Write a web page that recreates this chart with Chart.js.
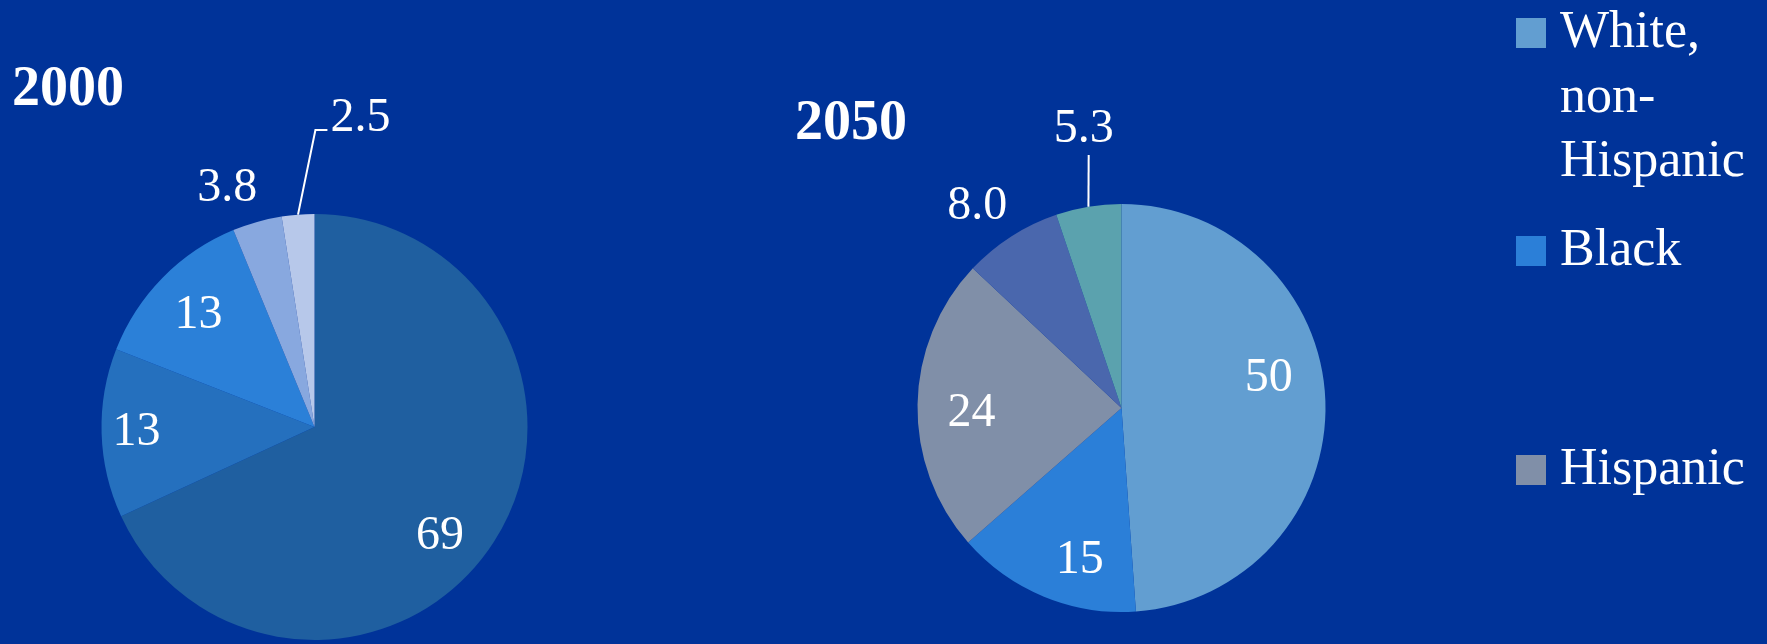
<!DOCTYPE html>
<html>
<head>
<meta charset="utf-8">
<script src="https://cdn.jsdelivr.net/npm/chart.js@4.4.1/dist/chart.umd.min.js"></script>
<style>
html,body{margin:0;padding:0;width:1767px;height:644px;overflow:hidden;background:#003399;}
canvas{position:absolute;left:0;top:0;}
.title{position:absolute;font-family:"Liberation Serif",serif;font-weight:bold;font-size:56px;line-height:56px;color:#fff;white-space:nowrap;}
.leg{position:absolute;left:1516px;width:251px;font-family:"Liberation Serif",serif;font-size:52px;line-height:64.5px;color:#fff;}
.leg .sw{position:absolute;left:0;width:30px;height:30px;}
.leg .tx{position:absolute;left:44px;top:0;width:205px;}
</style>
</head>
<body>
<canvas id="c2000" width="1767" height="644"></canvas>
<canvas id="c2050" width="1767" height="644"></canvas>
<div class="title" id="t2000" style="left:12px;top:58px;"></div>
<div class="title" id="t2050" style="left:795px;top:92px;"></div>
<div id="legend"></div>
<script>
// ---- data ----
const categories = ["White, non-Hispanic", "Black", "Hispanic", "Asian", "Other"];
const chartTitles = ["2000", "2050"];
const values2000 = [69, 13, 13, 3.8, 2.5];
const values2050 = [50, 15, 24, 8.0, 5.3];
const legendLabels = ["White, non-Hispanic", "Black", "Hispanic"];

// ---- styles ----
const colors2000 = ["#1F5FA0", "#2570BE", "#2B80D8", "#88A8DF", "#B7C8EA"];
const colors2050 = ["#629ED1", "#2B7FD8", "#808FA8", "#4A67AD", "#5BA2AE"];
const legendColors = ["#629ED1", "#2B7FD8", "#808FA8"];
const legendTops = [-2, 216, 435];
// [radius factor, angle offset in degrees]
const place2000 = [[0.771, 7.6], [0.836, 1.1], [0.767, 0.3], [1.208, -4.2], [1.483, 12.8]];
const place2050 = [[0.74, -10.5], [0.758, -6.7], [0.735, -1.8], [1.229, -2.4], [1.397, 1.7]];
// leader: [elbowDx, elbowDy, endDx, endDy] relative to label centre
const leaders2000 = [null, null, null, null, [-45, 15.5, -33, 15.5]];
const leaders2050 = [null, null, null, null, [5, 29.5, 5, 29.5]];

function fmt(v){ return v < 10 ? v.toFixed(1) : v.toFixed(0); }

const labelPlugin = {
  id: 'pieLabels',
  afterDatasetsDraw(chart, args, opts){
    const ctx = chart.ctx;
    const meta = chart.getDatasetMeta(0);
    const vals = chart.data.datasets[0].data;
    ctx.save();
    ctx.font = '48px "Liberation Serif", serif';
    ctx.fillStyle = '#ffffff';
    ctx.strokeStyle = '#ffffff';
    ctx.lineWidth = 2;
    ctx.textAlign = 'center';
    ctx.textBaseline = 'middle';
    meta.data.forEach((arc, i) => {
      const p = arc.getProps(['x','y','startAngle','endAngle','outerRadius'], true);
      const mid = (p.startAngle + p.endAngle) / 2;
      const pl = opts.place[i];
      const a = mid + pl[1] * Math.PI / 180;
      const lx = p.x + Math.cos(a) * p.outerRadius * pl[0];
      const ly = p.y + Math.sin(a) * p.outerRadius * pl[0];
      ctx.fillText(fmt(vals[i]), lx, ly + 3.5);
      const ld = opts.leaders[i];
      if (ld) {
        ctx.beginPath();
        ctx.moveTo(p.x + Math.cos(mid) * p.outerRadius, p.y + Math.sin(mid) * p.outerRadius);
        ctx.lineTo(lx + ld[0], ly + ld[1]);
        ctx.lineTo(lx + ld[2], ly + ld[3]);
        ctx.stroke();
      }
    });
    ctx.restore();
  }
};

function makePie(id, values, colors, padding, place, leaders){
  return new Chart(document.getElementById(id), {
    type: 'pie',
    data: {
      labels: categories,
      datasets: [{
        data: values,
        backgroundColor: colors,
        borderWidth: 0,
        hoverOffset: 0,
        offset: 0
      }]
    },
    options: {
      responsive: false,
      animation: false,
      events: [],
      layout: { padding: padding },
      plugins: {
        legend: { display: false },
        tooltip: { enabled: false },
        pieLabels: { place: place, leaders: leaders }
      }
    },
    plugins: [labelPlugin]
  });
}

makePie('c2000', values2000, colors2000, {left:101, right:1239, top:214, bottom:4}, place2000, leaders2000);
makePie('c2050', values2050, colors2050, {left:917, right:441, top:204, bottom:32}, place2050, leaders2050);

document.getElementById('t2000').textContent = chartTitles[0];
document.getElementById('t2050').textContent = chartTitles[1];

const legend = document.getElementById('legend');
legendLabels.forEach((lab, i) => {
  const d = document.createElement('div');
  d.className = 'leg';
  d.style.top = legendTops[i] + 'px';
  const sw = document.createElement('div');
  sw.className = 'sw';
  sw.style.background = legendColors[i];
  sw.style.top = '20px';
  const tx = document.createElement('div');
  tx.className = 'tx';
  tx.textContent = lab;
  d.appendChild(sw);
  d.appendChild(tx);
  legend.appendChild(d);
});
</script>
</body>
</html>
